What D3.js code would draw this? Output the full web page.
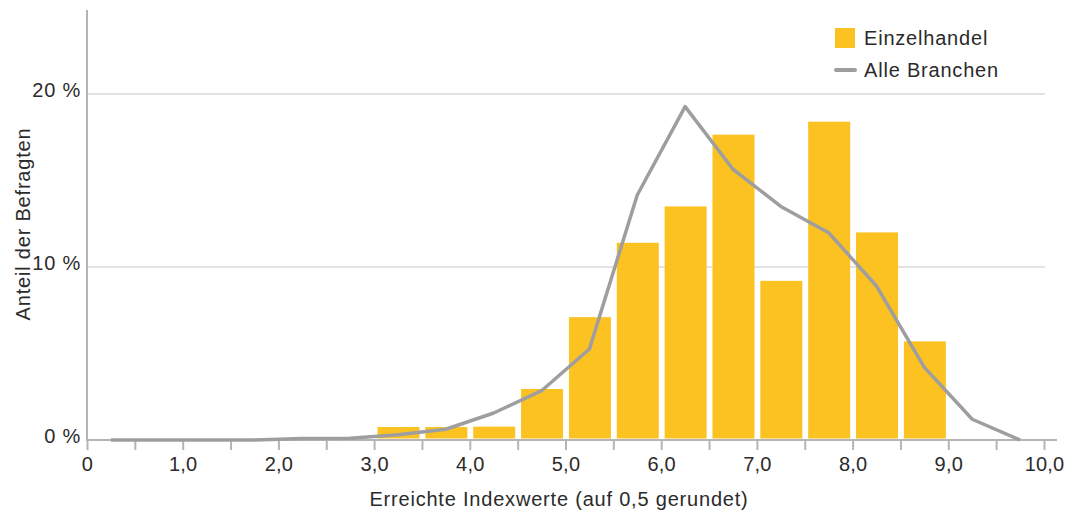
<!DOCTYPE html>
<html><head><meta charset="utf-8">
<script src="https://cdn.jsdelivr.net/npm/d3@7"></script>
<style>
body{margin:0;background:#fff;}
text{font-family:"Liberation Sans",Arial,sans-serif;fill:#2b2b2b;}
</style></head>
<body><svg id="c" width="1073" height="514"></svg>
<script>
// Data
const barBinStart = [3.0,3.5,4.0,4.5,5.0,5.5,6.0,6.5,7.0,7.5,8.0,8.5];
const barValues   = [0.75,0.75,0.77,2.95,7.1,11.4,13.5,17.65,9.2,18.4,12.0,5.7];
const lineX = [0.25,0.75,1.25,1.75,2.25,2.75,3.25,3.75,4.25,4.75,5.25,5.75,6.25,6.75,7.25,7.75,8.25,8.75,9.25,9.75];
const lineValues = [0,0,0,0,0.08,0.1,0.3,0.62,1.56,2.85,5.26,14.16,19.27,15.65,13.5,11.98,8.9,4.2,1.2,0];
const xTicks = [0,0.5,1,1.5,2,2.5,3,3.5,4,4.5,5,5.5,6,6.5,7,7.5,8,8.5,9,9.5,10];
const xTickLabels = ["0","","1,0","","2,0","","3,0","","4,0","","5,0","","6,0","","7,0","","8,0","","9,0","","10,0"];
const yTicks = [0,10,20];
const yTickLabels = ["0 %","10 %","20 %"];
const seriesNames = ["Einzelhandel","Alle Branchen"];

const FONT = "'Liberation Sans',Arial,sans-serif";
const FS = 20, LS = "0.8px";
const svg = d3.select("#c");
const x = d3.scaleLinear().domain([0,10]).range([87,1044]);
const y = d3.scaleLinear().domain([0,25]).range([440,7.5]);
const barColor = "#fcc222", lineColor = "#9e9ea0", axisColor = "#b5b5b5";

// gridlines
svg.append("g").selectAll("line").data(yTicks.filter(d=>d>0)).join("line")
  .attr("x1",88).attr("x2",1045).attr("y1",d=>y(d)).attr("y2",d=>y(d))
  .attr("stroke","#e3e3e3").attr("stroke-width",2);

// bars
const bw = x(0.5)-x(0);
svg.append("g").selectAll("rect").data(barBinStart).join("rect")
  .attr("x",(d)=>x(d)+bw*0.5-21+0.5)
  .attr("width",42)
  .attr("y",(d,i)=>y(barValues[i]))
  .attr("height",(d,i)=>y(0)-y(barValues[i])-1.5)
  .attr("fill",barColor);

// x axis
const xAxis = d3.axisBottom(x).tickValues(xTicks).tickSize(10).tickFormat((d,i)=>xTickLabels[i]);
const gx = svg.append("g").attr("transform","translate(0,440)").call(xAxis);
gx.select(".domain").remove();
gx.selectAll(".tick line").attr("stroke",axisColor).attr("stroke-width",2);
gx.selectAll(".tick text").attr("y",17).attr("dy","0.71em").attr("font-size",FS).attr("fill","#2b2b2b")
  .style("font-family",FONT).style("letter-spacing","0.2px");
svg.append("line").attr("x1",86).attr("x2",1057).attr("y1",440).attr("y2",440)
  .attr("stroke",axisColor).attr("stroke-width",2);
// y axis line
svg.append("line").attr("x1",87).attr("x2",87).attr("y1",10).attr("y2",441)
  .attr("stroke",axisColor).attr("stroke-width",2);

// y tick labels
const yAxis = d3.axisLeft(y).tickValues(yTicks).tickSize(0).tickPadding(6).tickFormat((d,i)=>yTickLabels[i]);
const gy = svg.append("g").attr("transform","translate(87,0)").call(yAxis);
gy.select(".domain").remove();
gy.selectAll(".tick text").attr("font-size",FS).attr("fill","#2b2b2b").attr("dy","0.1em")
  .style("font-family",FONT).style("letter-spacing",LS);

// line
svg.append("path").datum(lineX)
  .attr("d",d3.line().x(d=>x(d)).y((d,i)=>y(lineValues[i])))
  .attr("fill","none").attr("stroke",lineColor).attr("stroke-width",3.5).attr("stroke-linejoin","round");

// axis titles
svg.append("text").attr("x",559).attr("y",506).attr("text-anchor","middle").attr("font-size",FS)
  .style("letter-spacing",LS).text("Erreichte Indexwerte (auf 0,5 gerundet)");
svg.append("text").attr("transform","translate(30,224) rotate(-90)").attr("text-anchor","middle").attr("font-size",FS)
  .style("letter-spacing",LS).text("Anteil der Befragten");

// legend
svg.append("rect").attr("x",835).attr("y",28).attr("width",20).attr("height",20).attr("fill",barColor);
svg.append("text").attr("x",864).attr("y",45).attr("font-size",FS).style("letter-spacing",LS).text(seriesNames[0]);
svg.append("line").attr("x1",836).attr("x2",855).attr("y1",70).attr("y2",70)
  .attr("stroke",lineColor).attr("stroke-width",4).attr("stroke-linecap","round");
svg.append("text").attr("x",864).attr("y",77).attr("font-size",FS).style("letter-spacing",LS).text(seriesNames[1]);
</script></body></html>
